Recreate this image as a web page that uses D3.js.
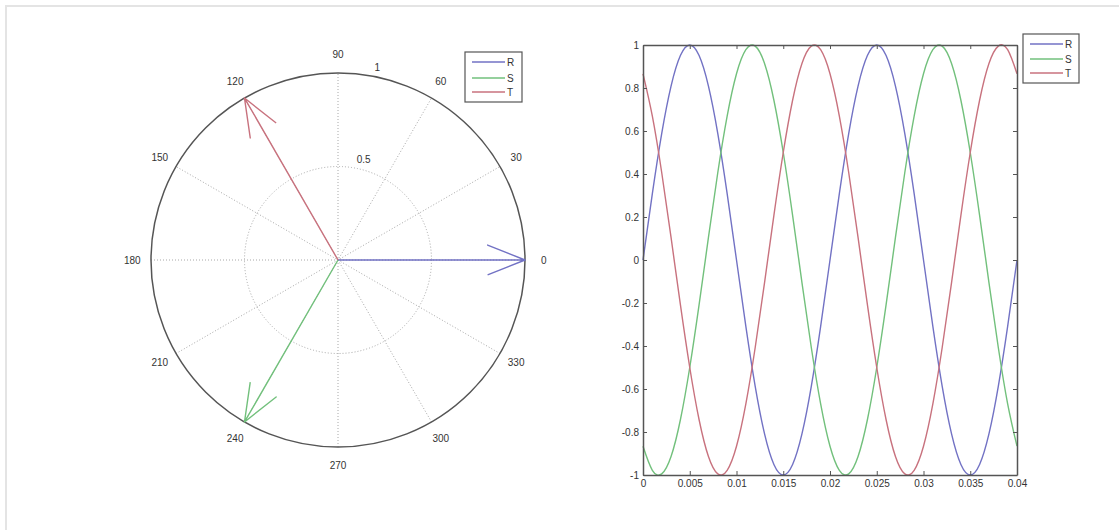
<!DOCTYPE html>
<html>
<head>
<meta charset="utf-8">
<script src="https://cdn.jsdelivr.net/npm/d3@7"></script>
<style>
  html, body { margin: 0; padding: 0; background: #fff; }
  svg text { font-family: "Liberation Sans", Arial, sans-serif; font-size: 10px; fill: #333; }
</style>
</head>
<body>
<svg id="fig" width="1119" height="530"></svg>
<script>
// Three-phase system R, S, T: phasors and time waveforms
const phases = ["R", "S", "T"];
const phaseColors = ["#7272c4", "#72c07c", "#c8727e"];
const phaseAngles = [0, 240, 120];        // degrees
const phaseMagnitudes = [1, 1, 1];

const polarAngleTicks = [0, 30, 60, 90, 120, 150, 180, 210, 240, 270, 300, 330];
const polarRadiusTicks = [0.5, 1];
const polarRadiusLabels = ["0.5", "1"];

// sampled time axis, seconds
const time = [0, 0.001, 0.002, 0.003, 0.004, 0.005, 0.006, 0.007, 0.008, 0.009,
  0.010, 0.011, 0.012, 0.013, 0.014, 0.015, 0.016, 0.017, 0.018, 0.019,
  0.020, 0.021, 0.022, 0.023, 0.024, 0.025, 0.026, 0.027, 0.028, 0.029,
  0.030, 0.031, 0.032, 0.033, 0.034, 0.035, 0.036, 0.037, 0.038, 0.039, 0.040];

const seriesR = [0, 0.309, 0.588, 0.809, 0.951, 1, 0.951, 0.809, 0.588, 0.309,
  0, -0.309, -0.588, -0.809, -0.951, -1, -0.951, -0.809, -0.588, -0.309,
  0, 0.309, 0.588, 0.809, 0.951, 1, 0.951, 0.809, 0.588, 0.309,
  0, -0.309, -0.588, -0.809, -0.951, -1, -0.951, -0.809, -0.588, -0.309, 0];
const seriesS = [-0.866, -0.978, -0.995, -0.914, -0.743, -0.5, -0.208, 0.105, 0.407, 0.669,
  0.866, 0.978, 0.995, 0.914, 0.743, 0.5, 0.208, -0.105, -0.407, -0.669,
  -0.866, -0.978, -0.995, -0.914, -0.743, -0.5, -0.208, 0.105, 0.407, 0.669,
  0.866, 0.978, 0.995, 0.914, 0.743, 0.5, 0.208, -0.105, -0.407, -0.669, -0.866];
const seriesT = [0.866, 0.669, 0.407, 0.105, -0.208, -0.5, -0.743, -0.914, -0.995, -0.978,
  -0.866, -0.669, -0.407, -0.105, 0.208, 0.5, 0.743, 0.914, 0.995, 0.978,
  0.866, 0.669, 0.407, 0.105, -0.208, -0.5, -0.743, -0.914, -0.995, -0.978,
  -0.866, -0.669, -0.407, -0.105, 0.208, 0.5, 0.743, 0.914, 0.995, 0.978, 0.866];
const waveSeries = [seriesR, seriesS, seriesT];

const xTicks = [0, 0.005, 0.01, 0.015, 0.02, 0.025, 0.03, 0.035, 0.04];
const xTickLabels = ["0", "0.005", "0.01", "0.015", "0.02", "0.025", "0.03", "0.035", "0.04"];
const yTicks = [-1, -0.8, -0.6, -0.4, -0.2, 0, 0.2, 0.4, 0.6, 0.8, 1];
const yTickLabels = ["-1", "-0.8", "-0.6", "-0.4", "-0.2", "0", "0.2", "0.4", "0.6", "0.8", "1"];

const svg = d3.select("#fig");

// light frame along the top and left edges
svg.append("path").attr("d", "M6,530 L6,6 L1119,6")
  .attr("fill", "none").attr("stroke", "#e4e4e4").attr("stroke-width", 2);

// ---------- compass / polar plot ----------
const cx = 338, cy = 260;
const r = d3.scaleLinear().domain([0, 1]).range([0, 187]);
const rad = d => d * Math.PI / 180;
const px = (v, a) => cx + r(v) * Math.cos(rad(a));
const py = (v, a) => cy - r(v) * Math.sin(rad(a));

const polar = svg.append("g");

// dotted spokes through the centre
polar.selectAll("line.spoke").data(polarAngleTicks.filter(a => a < 180)).join("line")
  .attr("x1", a => px(-1, a)).attr("y1", a => py(-1, a))
  .attr("x2", a => px(1, a)).attr("y2", a => py(1, a))
  .attr("stroke", "#a8a8a8").attr("stroke-width", 1).attr("stroke-dasharray", "1,2");

// inner dotted ring
polar.selectAll("circle.ring").data(polarRadiusTicks.filter(v => v < 1)).join("circle")
  .attr("cx", cx).attr("cy", cy).attr("r", v => r(v))
  .attr("fill", "none").attr("stroke", "#a8a8a8").attr("stroke-width", 1).attr("stroke-dasharray", "1,2");

// outer ring
polar.append("circle").attr("cx", cx).attr("cy", cy).attr("r", r(1))
  .attr("fill", "none").attr("stroke", "#555").attr("stroke-width", 1.5);

// angle labels
polar.selectAll("text.ang").data(polarAngleTicks).join("text")
  .attr("x", a => px(1.1, a)).attr("y", a => py(1.1, a))
  .attr("text-anchor", "middle").attr("dominant-baseline", "central")
  .text(a => String(a));

// radius labels
polar.selectAll("text.rad").data(polarRadiusTicks).join("text")
  .attr("x", (v, i) => px(v + 0.025, 79)).attr("y", (v, i) => py(v + 0.025, 79) - 1)
  .attr("text-anchor", "start")
  .text((v, i) => polarRadiusLabels[i]);

// phasor arrows: shaft plus two head strokes
phases.forEach((name, i) => {
  const a = phaseAngles[i], m = phaseMagnitudes[i];
  const local = [[0, 0], [1, 0], [0.8, 0.08], [1, 0], [0.8, -0.08]];
  const pts = local.map(([u, w]) => {
    const ca = Math.cos(rad(a)), sa = Math.sin(rad(a));
    const X = (u * ca - w * sa) * m, Y = (u * sa + w * ca) * m;
    return [cx + r(X), cy - r(Y)];
  });
  polar.append("path").attr("d", d3.line()(pts))
    .attr("fill", "none").attr("stroke", phaseColors[i]).attr("stroke-width", 1.4)
    .attr("stroke-linejoin", "round");
});

// legend helper
function legend(x0, y0, w, h, rowY) {
  const g = svg.append("g");
  g.append("rect").attr("x", x0).attr("y", y0).attr("width", w).attr("height", h)
    .attr("fill", "#fff").attr("stroke", "#555").attr("stroke-width", 1.2);
  phases.forEach((name, i) => {
    const y = y0 + rowY[i];
    g.append("line").attr("x1", x0 + 7).attr("x2", x0 + 40).attr("y1", y).attr("y2", y)
      .attr("stroke", phaseColors[i]).attr("stroke-width", 1.4);
    g.append("text").attr("x", x0 + 42).attr("y", y).attr("dominant-baseline", "central").text(name);
  });
}
legend(465, 52, 57, 50, [10, 26, 40]);

// ---------- time waveforms ----------
const x = d3.scaleLinear().domain([0, 0.04]).range([643, 1017]);
const y = d3.scaleLinear().domain([-1, 1]).range([475, 45]);

const wave = svg.append("g");
const line = d3.line().x((d, k) => x(time[k])).y(d => y(d)).curve(d3.curveNatural);
waveSeries.forEach((s, i) => {
  wave.append("path").attr("d", line(s))
    .attr("fill", "none").attr("stroke", phaseColors[i]).attr("stroke-width", 1.4);
});

function styleAxis(g) {
  g.selectAll(".domain").attr("stroke", "#555").attr("stroke-width", 1.5);
  g.selectAll(".tick line").attr("stroke", "#555");
  g.selectAll("text").attr("font-family", null).attr("font-size", null).attr("fill", "#333");
}

svg.append("g").attr("transform", `translate(0,${y(-1)})`)
  .call(d3.axisBottom(x).tickValues(xTicks).tickSizeInner(-4).tickSizeOuter(0).tickPadding(5)
    .tickFormat((d, i) => xTickLabels[i]))
  .call(styleAxis);
svg.append("g").attr("transform", `translate(0,${y(1)})`)
  .call(d3.axisTop(x).tickValues(xTicks).tickSizeInner(-4).tickSizeOuter(0).tickFormat(""))
  .call(styleAxis);
svg.append("g").attr("transform", `translate(${x(0)},0)`)
  .call(d3.axisLeft(y).tickValues(yTicks).tickSizeInner(-4).tickSizeOuter(0).tickPadding(4)
    .tickFormat((d, i) => yTickLabels[i]))
  .call(styleAxis);
svg.append("g").attr("transform", `translate(${x(0.04)},0)`)
  .call(d3.axisRight(y).tickValues(yTicks).tickSizeInner(-4).tickSizeOuter(0).tickFormat(""))
  .call(styleAxis);

legend(1023, 34, 56, 49, [10, 25, 39]);
</script>
</body>
</html>
